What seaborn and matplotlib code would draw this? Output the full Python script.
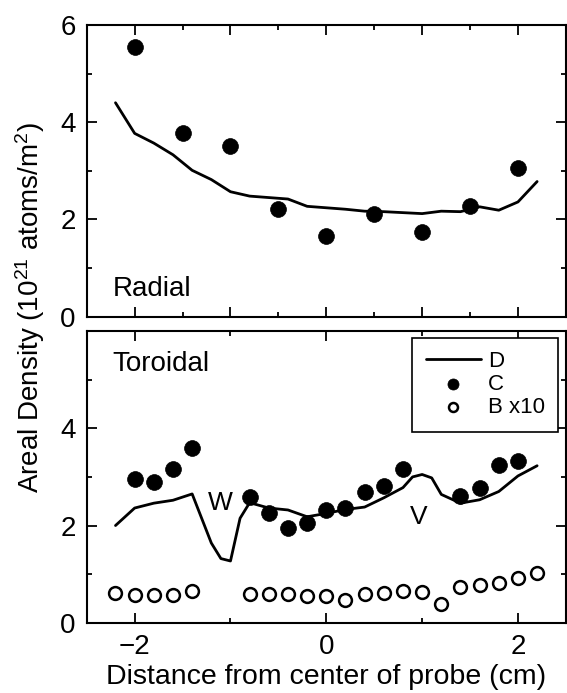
import numpy as np
import pandas as pd
import matplotlib
matplotlib.use("Agg")
import matplotlib.pyplot as plt
import seaborn as sns
from matplotlib.ticker import FixedLocator

# RADIAL SCAN DATA

rad_x_c = [-2.0, -1.5, -1.0, -0.5, 0.0, 0.5, 1.0, 1.5, 2.0]
rad_c = [5.55, 3.78, 3.52, 2.22, 1.65, 2.12, 1.75, 2.28, 3.05]

rad_x_d = [-2.2, -2.0, -1.8, -1.6, -1.4, -1.2, -1.0, -0.8, -0.6, -0.4, -0.2, 0.0,
           0.2, 0.4, 0.6, 0.8, 1.0, 1.2, 1.4, 1.6, 1.8, 2.0, 2.2]
rad_d = [4.40, 3.77, 3.57, 3.33, 3.01, 2.82, 2.57, 2.48, 2.45, 2.42, 2.27, 2.24,
         2.21, 2.17, 2.16, 2.14, 2.12, 2.17, 2.16, 2.26, 2.19, 2.36, 2.78]

# TOROIDAL SCAN DATA

tor_x_c = [-2.0, -1.8, -1.6, -1.4, -0.8, -0.6, -0.4, -0.2, 0.0, 0.2, 0.4, 0.6, 0.8,
           1.4, 1.6, 1.8, 2.0]
tor_c = [2.95, 2.90, 3.16, 3.60, 2.59, 2.26, 1.94, 2.06, 2.31, 2.36, 2.68, 2.81, 3.17,
         2.61, 2.78, 3.24, 3.33]

tor_x_b = [-2.2, -2.0, -1.8, -1.6, -1.4, -0.8, -0.6, -0.4, -0.2, 0.0, 0.2, 0.4, 0.6,
           0.8, 1.0, 1.2, 1.4, 1.6, 1.8, 2.0, 2.2]
tor_b = [0.62, 0.58, 0.58, 0.58, 0.65, 0.59, 0.59, 0.59, 0.55, 0.54, 0.47, 0.59, 0.62,
         0.66, 0.63, 0.38, 0.73, 0.77, 0.82, 0.92, 1.02]

tor_x_d = [-2.2, -2.0, -1.8, -1.6, -1.4, -1.2, -1.1, -1.0, -0.9, -0.8, -0.6, -0.4, -0.2,
           0.0, 0.2, 0.4, 0.6, 0.8, 0.9, 1.0, 1.1, 1.2, 1.4, 1.6, 1.8, 2.0, 2.2]
tor_d = [2.00, 2.36, 2.46, 2.52, 2.65, 1.64, 1.32, 1.27, 2.15, 2.47, 2.36, 2.32, 2.18,
         2.25, 2.33, 2.38, 2.57, 2.78, 3.00, 3.05, 2.98, 2.64, 2.46, 2.53, 2.70, 3.02, 3.23]

# STYLE

sns.set_style("ticks")
plt.rcParams['font.family'] = ['Liberation Sans', 'DejaVu Sans']
plt.rcParams['mathtext.fontset'] = 'custom'
plt.rcParams['mathtext.rm'] = 'Liberation Sans'
plt.rcParams['mathtext.default'] = 'regular'
plt.rcParams['text.color'] = 'black'
plt.rcParams['axes.labelcolor'] = 'black'
plt.rcParams['xtick.color'] = 'black'
plt.rcParams['ytick.color'] = 'black'

fig = plt.figure(figsize=(5.67, 6.93), dpi=100)
ax1 = fig.add_axes([0.153, 0.543, 0.845, 0.421])
ax2 = fig.add_axes([0.153, 0.1014, 0.845, 0.4208])

# RADIAL PANEL

sns.lineplot(x=rad_x_d, y=rad_d, ax=ax1, color='black', linewidth=2)
sns.scatterplot(x=rad_x_c, y=rad_c, ax=ax1, color='black', s=130,
                edgecolor='black', linewidth=0.5)
ax1.text(-2.23, 0.43, "Radial", fontsize=20, ha='left', va='baseline')

# TOROIDAL PANEL

sns.lineplot(x=tor_x_d, y=tor_d, ax=ax2, color='black', linewidth=2, label='D')
sns.scatterplot(x=tor_x_c, y=tor_c, ax=ax2, color='black', s=130,
                edgecolor='black', linewidth=0.5, label='C')
sns.scatterplot(x=tor_x_b, y=tor_b, ax=ax2, facecolor='white', s=85,
                edgecolor='black', linewidth=1.8, label='B x10')
ax2.text(-2.23, 5.18, "Toroidal", fontsize=20, ha='left', va='baseline')
ax2.text(-1.11, 2.32, "W", fontsize=19, ha='center', va='baseline')
ax2.text(0.96, 2.03, "V", fontsize=19, ha='center', va='baseline')

leg = ax2.legend(loc='upper right', bbox_to_anchor=(0.984, 0.978), borderaxespad=0,
                 frameon=True, fancybox=False, edgecolor='black', framealpha=1,
                 fontsize=16, handlelength=2.5, handletextpad=0.3, borderpad=0.6,
                 labelspacing=0.1, markerscale=0.7)
leg.get_frame().set_linewidth(1.2)

# AXES FORMATTING

for ax in (ax1, ax2):
    ax.set_xlim(-2.5, 2.5)
    ax.set_ylim(0, 6)
    ax.set_ylabel("")
    for sp in ax.spines.values():
        sp.set_visible(True)
        sp.set_linewidth(1.5)
        sp.set_color('black')
    ax.tick_params(which='both', direction='in', top=True, right=True,
                   color='black', width=1.3, labelsize=20, pad=8)
    ax.tick_params(which='major', length=7)
    ax.tick_params(which='minor', length=3.5)
    ax.yaxis.set_minor_locator(FixedLocator([1, 3, 5]))

ax1.set_xticks([-2, -1, 0, 1, 2])
ax1.xaxis.set_minor_locator(FixedLocator([-1.5, -0.5, 0.5, 1.5]))
ax1.tick_params(axis='x', labelbottom=False)
ax1.set_yticks([0, 2, 4, 6])

ax2.set_xticks([-2, 0, 2])
ax2.xaxis.set_minor_locator(FixedLocator([-1, 1]))
ax2.set_yticks([0, 2, 4])
ax2.set_xlabel("Distance from center of probe (cm)", fontsize=20.5, labelpad=3)

fig.text(0.053, 0.557, "Areal Density (10$^{21}$ atoms/m$^2$)", rotation=90,
         ha='center', va='center', fontsize=20)

fig.savefig("out.png", dpi=100)
